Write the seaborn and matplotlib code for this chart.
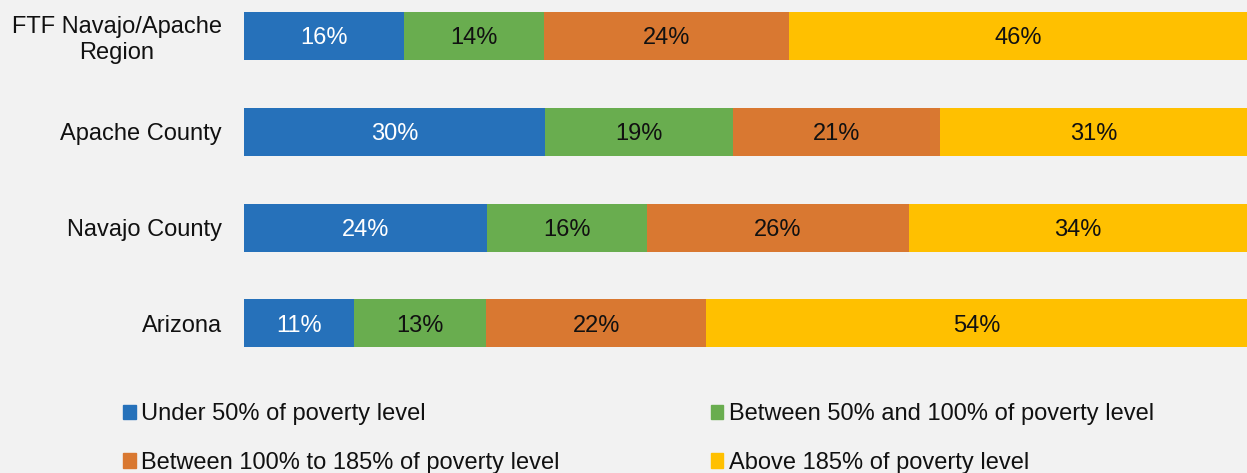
import matplotlib
matplotlib.use("Agg")
import matplotlib.pyplot as plt
import matplotlib.patches as mpatches
import seaborn as sns
import pandas as pd
import numpy as np

categories = ["FTF Navajo/Apache\nRegion", "Apache County", "Navajo County", "Arizona"]
series_names = ["Under 50% of poverty level", "Between 50% and 100% of poverty level",
                "Between 100% to 185% of poverty level", "Above 185% of poverty level"]
under50 = [15.9, 30.0, 24.2, 11.0]
b50_100 = [14.0, 18.8, 16.0, 13.1]
b100_185 = [24.4, 20.6, 26.1, 22.0]
above185 = [45.7, 30.6, 33.7, 53.9]
colors = ["#2671BA", "#69AD4F", "#D97831", "#FFC000"]
label_colors = ["white", "#111111", "#111111", "#111111"]

sns.set_theme(style="white")
plt.rcParams["font.family"] = ["Liberation Sans", "DejaVu Sans"]
bg = "#F2F2F2"

fig = plt.figure(figsize=(12.47, 4.73), dpi=100, facecolor=bg)
ax = fig.add_axes([0.1957, 0.2402, 0.8043, 0.7598])
ax.set_facecolor(bg)

series = [under50, b50_100, b100_185, above185]
cum = np.zeros(len(categories))
cums = []
for s in series:
    cum = cum + np.array(s)
    cums.append(cum.copy())

for i in range(len(series) - 1, -1, -1):
    d = pd.DataFrame({"cat": categories, "val": cums[i]})
    sns.barplot(data=d, x="val", y="cat", orient="h", color=colors[i],
                width=0.5, ax=ax, saturation=1, linewidth=0)

for i, s in enumerate(series):
    lefts = cums[i] - np.array(s)
    for j, v in enumerate(s):
        ax.text(lefts[j] + v / 2, j, f"{v:.0f}%", ha="center", va="center_baseline",
                fontsize=17, color=label_colors[i])

ax.set_xlim(0, 100)
ax.set_ylim(3.375, -0.375)
ax.set_xlabel("")
ax.set_ylabel("")
ax.set_xticks([])
for sp in ax.spines.values():
    sp.set_visible(False)
ax.tick_params(axis="y", length=0, pad=15.8, labelsize=17, labelcolor="#111111")
for t in ax.get_yticklabels():
    t.set_multialignment("center")

handles = [mpatches.Patch(color=colors[k], label=series_names[k]) for k in [0, 2, 1, 3]]
fig.legend(handles=handles, ncol=2, loc="upper left", bbox_to_anchor=(0.0986, 0.148),
           frameon=False, fontsize=17, handlelength=0.55, handleheight=0.55,
           handletextpad=0.23, columnspacing=6.38, labelspacing=1.14, borderpad=0,
           borderaxespad=0, labelcolor="#111111")

fig.savefig("out.png", dpi=100, facecolor=bg)
